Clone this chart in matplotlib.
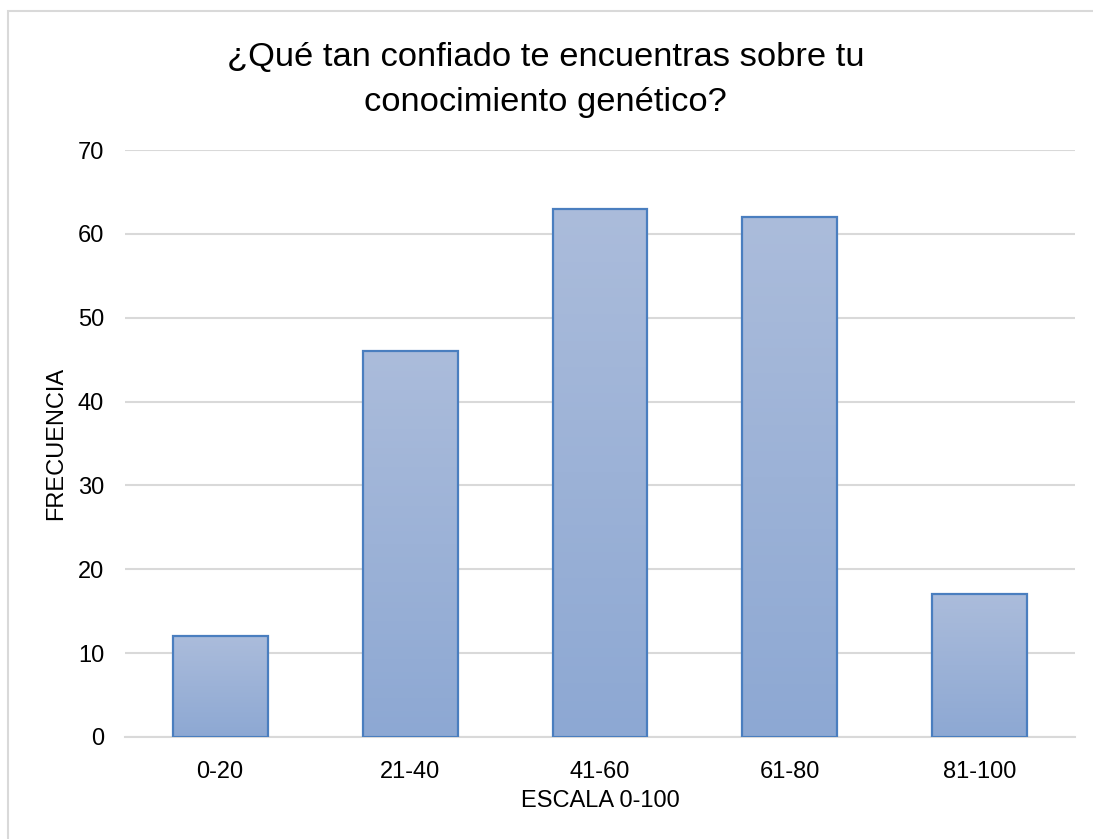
import numpy as np
import matplotlib.pyplot as plt
from matplotlib.patches import Rectangle

plt.rcParams['font.family'] = ['Liberation Sans', 'DejaVu Sans']

rangos = ['0-20', '21-40', '41-60', '61-80', '81-100']
frecuencia = [12, 46, 63, 62, 17]

fig = plt.figure(figsize=(10.93, 8.39), dpi=100)
ax = fig.add_axes([0.1144, 0.1216, 0.8691, 0.6996])

# marco del grafico (solo se ve el borde izquierdo y el superior)
fig.patches.append(Rectangle((8 / 1093, -0.1), 1.2, (839 - 11) / 839 + 0.1,
                             transform=fig.transFigure, fill=False,
                             edgecolor='#d9d9d9', linewidth=1.5, zorder=0))

# degradado vertical de cada barra: claro arriba, mas oscuro abajo
top = np.array([0xab, 0xbc, 0xdb]) / 255
bot = np.array([0x8d, 0xa8, 0xd3]) / 255
t = np.linspace(0, 1, 256)[:, None]
grad = (top * (1 - t) + bot * t).reshape(256, 1, 3)

ancho = 0.5
for i, v in enumerate(frecuencia):
    x0 = i - ancho / 2
    ax.imshow(grad, extent=[x0, x0 + ancho, 0, v], aspect='auto',
              origin='upper', zorder=2, interpolation='bilinear')
    ax.bar(i, v, width=ancho, facecolor='none', edgecolor='#4a7ebf',
           linewidth=1.6, zorder=3)

ax.set_xlim(-0.5, len(rangos) - 0.5)
ax.set_ylim(0, 70)
ax.set_yticks(range(0, 71, 10))
ax.set_xticks(range(len(rangos)))
ax.set_xticklabels(rangos)
ax.yaxis.grid(True, color='#d9d9d9', linewidth=1.5, zorder=0)
ax.set_axisbelow(True)
for s in ['top', 'right', 'left']:
    ax.spines[s].set_visible(False)
ax.spines['bottom'].set_color('#d9d9d9')
ax.spines['bottom'].set_linewidth(1.5)
ax.tick_params(length=0, labelsize=17, colors='#000000')
ax.tick_params(axis='x', pad=17)
ax.tick_params(axis='y', pad=15)

# titulo centrado en la figura, no en los ejes
ax.set_title('¿Qué tan confiado te encuentras sobre tu\nconocimiento genético?',
             fontsize=24.8, pad=28, linespacing=1.6, x=0.443)
ax.set_xlabel('ESCALA 0-100', fontsize=17, labelpad=5)
ax.set_ylabel('FRECUENCIA', fontsize=17, labelpad=8)

fig.savefig('out.png', dpi=100)
